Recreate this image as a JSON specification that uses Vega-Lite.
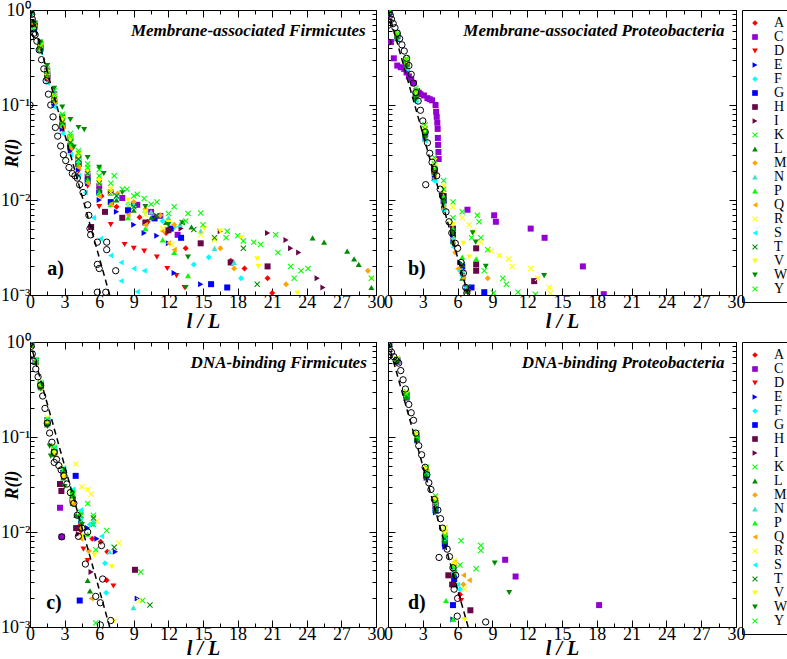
{
"$schema":"https://vega.github.io/schema/vega-lite/v6.json",
"padding":{"left":0,"top":0,"right":0,"bottom":0},
"config":{"font":"Liberation Serif","view":{"stroke":"black","strokeWidth":1},
"axis":{"domainColor":"black","tickColor":"black","labelColor":"black","titleColor":"black","labelFont":"Liberation Serif","titleFont":"Liberation Serif","labelFontSize":18,"grid":false,"tickWidth":1,"domainWidth":1,"labelFlush":false,"labelOverlap":false},
"legend":{"strokeColor":"black","padding":6,"labelFontSize":14,"labelFont":"Liberation Serif","labelColor":"black","symbolSize":32,"rowPadding":-1,"labelOffset":12,"offset":-4,"symbolStrokeWidth":0}},
"datasets":{
"fit":[{"p":"a","x":0,"y":1},{"p":"a","x":6.91,"y":0.001},{"p":"b","x":0,"y":1},{"p":"b","x":6.91,"y":0.001},{"p":"c","x":0,"y":1},{"p":"c","x":6.91,"y":0.001},{"p":"d","x":0,"y":1},{"p":"d","x":6.91,"y":0.001}],
"ref":[
{"p":"a","x":0,"y":1},{"p":"a","x":0.1,"y":1},{"p":"a","x":0.15,"y":0.9},{"p":"a","x":0.2,"y":0.8},{"p":"a","x":0.25,"y":0.72},{"p":"a","x":0.3,"y":0.64},{"p":"a","x":0.35,"y":0.57},{"p":"a","x":0.06,"y":0.52},{"p":"a","x":0,"y":0.1},{"p":"a","x":0.45,"y":0.55},{"p":"a","x":0.6,"y":0.47},{"p":"a","x":0.8,"y":0.38},{"p":"a","x":1.0,"y":0.3},{"p":"a","x":1.2,"y":0.24},{"p":"a","x":1.4,"y":0.18},{"p":"a","x":1.6,"y":0.13},{"p":"a","x":1.8,"y":0.1},{"p":"a","x":2.0,"y":0.075},{"p":"a","x":2.2,"y":0.058},{"p":"a","x":2.4,"y":0.047},{"p":"a","x":2.66,"y":0.037},{"p":"a","x":2.9,"y":0.03},{"p":"a","x":3.1,"y":0.026},{"p":"a","x":3.38,"y":0.022},{"p":"a","x":3.67,"y":0.019},{"p":"a","x":3.9,"y":0.018},{"p":"a","x":4.1,"y":0.017},{"p":"a","x":4.3,"y":0.0145},{"p":"a","x":4.6,"y":0.012},{"p":"a","x":5.0,"y":0.0089},{"p":"a","x":5.1,"y":0.0069},{"p":"a","x":5.2,"y":0.005},{"p":"a","x":5.26,"y":0.0043},{"p":"a","x":5.84,"y":0.0036},{"p":"a","x":6.65,"y":0.0036},{"p":"a","x":6.65,"y":0.003},{"p":"a","x":5.84,"y":0.0021},{"p":"a","x":6.0,"y":0.0019},{"p":"a","x":7.43,"y":0.0018},{"p":"a","x":5.84,"y":0.00107},{"p":"a","x":6.57,"y":0.00107},
{"p":"b","x":0,"y":0.69},{"p":"b","x":0,"y":0.46},{"p":"b","x":0.05,"y":1},{"p":"b","x":0.1,"y":0.95},{"p":"b","x":0.2,"y":0.88},{"p":"b","x":0.3,"y":0.8},{"p":"b","x":0.45,"y":0.72},{"p":"b","x":0.6,"y":0.65},{"p":"b","x":0.8,"y":0.57},{"p":"b","x":1.0,"y":0.5},{"p":"b","x":1.2,"y":0.43},{"p":"b","x":1.4,"y":0.37},{"p":"b","x":1.6,"y":0.31},{"p":"b","x":1.8,"y":0.26},{"p":"b","x":2.0,"y":0.21},{"p":"b","x":2.2,"y":0.17},{"p":"b","x":2.4,"y":0.135},{"p":"b","x":2.6,"y":0.11},{"p":"b","x":2.8,"y":0.088},{"p":"b","x":3.0,"y":0.068},{"p":"b","x":3.2,"y":0.052},{"p":"b","x":3.4,"y":0.04},{"p":"b","x":3.6,"y":0.031},{"p":"b","x":3.8,"y":0.025},{"p":"b","x":3.25,"y":0.0145},{"p":"b","x":4.0,"y":0.021},{"p":"b","x":4.2,"y":0.018},{"p":"b","x":4.5,"y":0.013},{"p":"b","x":4.7,"y":0.011},{"p":"b","x":5.0,"y":0.0075},{"p":"b","x":5.26,"y":0.0059},{"p":"b","x":5.5,"y":0.0045},{"p":"b","x":5.8,"y":0.0035},{"p":"b","x":6.0,"y":0.0031},{"p":"b","x":6.3,"y":0.0022},{"p":"b","x":6.5,"y":0.0017},{"p":"b","x":6.7,"y":0.0012},{"p":"b","x":6.8,"y":0.00105},
{"p":"c","x":0,"y":0.97},{"p":"c","x":0.1,"y":0.9},{"p":"c","x":0.2,"y":0.75},{"p":"c","x":0.3,"y":0.63},{"p":"c","x":0.5,"y":0.52},{"p":"c","x":0.7,"y":0.43},{"p":"c","x":0.93,"y":0.35},{"p":"c","x":1.1,"y":0.27},{"p":"c","x":1.3,"y":0.2},{"p":"c","x":1.5,"y":0.14},{"p":"c","x":1.7,"y":0.11},{"p":"c","x":1.9,"y":0.088},{"p":"c","x":2.1,"y":0.069},{"p":"c","x":2.3,"y":0.058},{"p":"c","x":2.5,"y":0.05},{"p":"c","x":2.1,"y":0.054},{"p":"c","x":2.7,"y":0.045},{"p":"c","x":2.95,"y":0.039},{"p":"c","x":3.2,"y":0.032},{"p":"c","x":3.5,"y":0.026},{"p":"c","x":3.8,"y":0.02},{"p":"c","x":4.1,"y":0.015},{"p":"c","x":4.5,"y":0.011},{"p":"c","x":4.2,"y":0.009},{"p":"c","x":2.75,"y":0.0089},{"p":"c","x":5.0,"y":0.01},{"p":"c","x":6.2,"y":0.0072},{"p":"c","x":4.8,"y":0.0046},{"p":"c","x":6.3,"y":0.0032},{"p":"c","x":5.7,"y":0.0021},{"p":"c","x":6.1,"y":0.0018},{"p":"c","x":7.0,"y":0.00117},{"p":"c","x":6.1,"y":0.00105},
{"p":"d","x":0,"y":1},{"p":"d","x":0.05,"y":0.93},{"p":"d","x":0.1,"y":0.85},{"p":"d","x":0,"y":0.7},{"p":"d","x":0.3,"y":0.78},{"p":"d","x":0.5,"y":0.7},{"p":"d","x":0.7,"y":0.64},{"p":"d","x":0.92,"y":0.6},{"p":"d","x":1.1,"y":0.5},{"p":"d","x":1.3,"y":0.4},{"p":"d","x":1.5,"y":0.32},{"p":"d","x":1.79,"y":0.22},{"p":"d","x":2.0,"y":0.18},{"p":"d","x":2.2,"y":0.15},{"p":"d","x":2.4,"y":0.11},{"p":"d","x":2.65,"y":0.081},{"p":"d","x":2.9,"y":0.065},{"p":"d","x":3.2,"y":0.048},{"p":"d","x":3.35,"y":0.04},{"p":"d","x":3.52,"y":0.033},{"p":"d","x":3.7,"y":0.028},{"p":"d","x":4.0,"y":0.022},{"p":"d","x":4.3,"y":0.017},{"p":"d","x":4.53,"y":0.0138},{"p":"d","x":4.7,"y":0.011},{"p":"d","x":4.4,"y":0.0054},{"p":"d","x":5.1,"y":0.0066},{"p":"d","x":5.3,"y":0.0055},{"p":"d","x":5.6,"y":0.0042},{"p":"d","x":5.83,"y":0.0035},{"p":"d","x":5.7,"y":0.0025},{"p":"d","x":6.0,"y":0.002},{"p":"d","x":5.97,"y":0.0013},{"p":"d","x":8.42,"y":0.00113}],
"pts":[
{"p":"a","s":"A","x":0.05,"y":0.96},{"p":"a","s":"A","x":0.4,"y":0.66},{"p":"a","s":"A","x":0.9,"y":0.38},{"p":"a","s":"A","x":1.5,"y":0.19},{"p":"a","s":"A","x":2.1,"y":0.105},{"p":"a","s":"A","x":2.8,"y":0.06},{"p":"a","s":"A","x":3.5,"y":0.036},{"p":"a","s":"A","x":4.2,"y":0.023},{"p":"a","s":"A","x":5,"y":0.016},{"p":"a","s":"A","x":6.2,"y":0.011},{"p":"a","s":"A","x":7.5,"y":0.0085},{"p":"a","s":"A","x":8.5,"y":0.0075},{"p":"a","s":"A","x":9.5,"y":0.0066},{"p":"a","s":"A","x":10.2,"y":0.0059},{"p":"a","s":"A","x":11.8,"y":0.0045},{"p":"a","s":"A","x":13.5,"y":0.0031},{"p":"a","s":"A","x":17.4,"y":0.0023},{"p":"a","s":"A","x":18.6,"y":0.0019},{"p":"a","s":"A","x":20.6,"y":0.0015},{"p":"a","s":"A","x":21,"y":0.00105},
{"p":"a","s":"C","x":0.05,"y":0.98},{"p":"a","s":"C","x":0.4,"y":0.72},{"p":"a","s":"C","x":0.9,"y":0.44},{"p":"a","s":"C","x":1.5,"y":0.23},{"p":"a","s":"C","x":2.1,"y":0.13},{"p":"a","s":"C","x":2.8,"y":0.075},{"p":"a","s":"C","x":3.5,"y":0.045},{"p":"a","s":"C","x":4.2,"y":0.028},{"p":"a","s":"C","x":5,"y":0.018},{"p":"a","s":"C","x":6,"y":0.014},{"p":"a","s":"C","x":7,"y":0.012},{"p":"a","s":"C","x":8,"y":0.0105},{"p":"a","s":"C","x":9.3,"y":0.0089},{"p":"a","s":"C","x":10.5,"y":0.0075},{"p":"a","s":"C","x":11.3,"y":0.0068},{"p":"a","s":"C","x":12.8,"y":0.0043},
{"p":"a","s":"D","x":0.05,"y":0.95},{"p":"a","s":"D","x":0.4,"y":0.64},{"p":"a","s":"D","x":0.9,"y":0.37},{"p":"a","s":"D","x":1.5,"y":0.18},{"p":"a","s":"D","x":2.1,"y":0.1},{"p":"a","s":"D","x":2.8,"y":0.055},{"p":"a","s":"D","x":3.5,"y":0.032},{"p":"a","s":"D","x":4.2,"y":0.02},{"p":"a","s":"D","x":5,"y":0.014},{"p":"a","s":"D","x":6,"y":0.0085},{"p":"a","s":"D","x":7,"y":0.0055},{"p":"a","s":"D","x":8.2,"y":0.0034},{"p":"a","s":"D","x":9,"y":0.0031},{"p":"a","s":"D","x":9.9,"y":0.0029},{"p":"a","s":"D","x":11,"y":0.0025},{"p":"a","s":"D","x":11.9,"y":0.0019},{"p":"a","s":"D","x":12.7,"y":0.0016},{"p":"a","s":"D","x":13.4,"y":0.0012},
{"p":"a","s":"E","x":0.05,"y":0.95},{"p":"a","s":"E","x":0.4,"y":0.65},{"p":"a","s":"E","x":0.9,"y":0.38},{"p":"a","s":"E","x":1.5,"y":0.19},{"p":"a","s":"E","x":2.1,"y":0.1},{"p":"a","s":"E","x":2.8,"y":0.056},{"p":"a","s":"E","x":3.5,"y":0.033},{"p":"a","s":"E","x":4.2,"y":0.021},{"p":"a","s":"E","x":5,"y":0.015},{"p":"a","s":"E","x":6,"y":0.01},{"p":"a","s":"E","x":7.5,"y":0.0075},{"p":"a","s":"E","x":9,"y":0.0055},{"p":"a","s":"E","x":9.9,"y":0.0045},{"p":"a","s":"E","x":11,"y":0.0042},{"p":"a","s":"E","x":12,"y":0.0035},{"p":"a","s":"E","x":12.5,"y":0.0017},{"p":"a","s":"E","x":14.8,"y":0.0013},
{"p":"a","s":"F","x":0.05,"y":0.97},{"p":"a","s":"F","x":0.4,"y":0.68},{"p":"a","s":"F","x":0.9,"y":0.41},{"p":"a","s":"F","x":1.5,"y":0.21},{"p":"a","s":"F","x":2.1,"y":0.115},{"p":"a","s":"F","x":2.8,"y":0.066},{"p":"a","s":"F","x":3.5,"y":0.04},{"p":"a","s":"F","x":4.2,"y":0.027},{"p":"a","s":"F","x":5,"y":0.02},{"p":"a","s":"F","x":6,"y":0.015},{"p":"a","s":"F","x":7,"y":0.012},{"p":"a","s":"F","x":8.5,"y":0.009},{"p":"a","s":"F","x":10,"y":0.0075},{"p":"a","s":"F","x":11.5,"y":0.006},{"p":"a","s":"F","x":12.5,"y":0.0052},{"p":"a","s":"F","x":14.2,"y":0.0021},{"p":"a","s":"F","x":15.5,"y":0.0025},{"p":"a","s":"F","x":18.3,"y":0.0015},
{"p":"a","s":"G","x":0.05,"y":0.96},{"p":"a","s":"G","x":0.4,"y":0.67},{"p":"a","s":"G","x":0.9,"y":0.39},{"p":"a","s":"G","x":1.5,"y":0.2},{"p":"a","s":"G","x":2.1,"y":0.108},{"p":"a","s":"G","x":2.8,"y":0.06},{"p":"a","s":"G","x":3.5,"y":0.036},{"p":"a","s":"G","x":4.2,"y":0.024},{"p":"a","s":"G","x":5,"y":0.016},{"p":"a","s":"G","x":6,"y":0.012},{"p":"a","s":"G","x":7,"y":0.0095},{"p":"a","s":"G","x":8.5,"y":0.0078},{"p":"a","s":"G","x":10.8,"y":0.0064},{"p":"a","s":"G","x":12.2,"y":0.005},{"p":"a","s":"G","x":13.1,"y":0.004},{"p":"a","s":"G","x":15.7,"y":0.0013},{"p":"a","s":"G","x":17.1,"y":0.0012},
{"p":"a","s":"H","x":0.05,"y":0.97},{"p":"a","s":"H","x":0.4,"y":0.69},{"p":"a","s":"H","x":0.9,"y":0.4},{"p":"a","s":"H","x":1.5,"y":0.2},{"p":"a","s":"H","x":2.1,"y":0.11},{"p":"a","s":"H","x":2.8,"y":0.062},{"p":"a","s":"H","x":3.5,"y":0.037},{"p":"a","s":"H","x":4.2,"y":0.024},{"p":"a","s":"H","x":5.3,"y":0.0052},{"p":"a","s":"H","x":6.5,"y":0.0075},{"p":"a","s":"H","x":8,"y":0.0065},{"p":"a","s":"H","x":10,"y":0.0058},{"p":"a","s":"H","x":12,"y":0.0048},{"p":"a","s":"H","x":14.8,"y":0.0035},{"p":"a","s":"H","x":17.4,"y":0.0022},{"p":"a","s":"H","x":20.6,"y":0.002},
{"p":"a","s":"I","x":0.05,"y":0.98},{"p":"a","s":"I","x":0.4,"y":0.7},{"p":"a","s":"I","x":0.9,"y":0.42},{"p":"a","s":"I","x":1.5,"y":0.22},{"p":"a","s":"I","x":2.1,"y":0.12},{"p":"a","s":"I","x":2.8,"y":0.07},{"p":"a","s":"I","x":3.5,"y":0.043},{"p":"a","s":"I","x":4.2,"y":0.028},{"p":"a","s":"I","x":5,"y":0.018},{"p":"a","s":"I","x":7,"y":0.012},{"p":"a","s":"I","x":9,"y":0.009},{"p":"a","s":"I","x":11,"y":0.0068},{"p":"a","s":"I","x":13.1,"y":0.005},{"p":"a","s":"I","x":16.5,"y":0.0047},{"p":"a","s":"I","x":20.6,"y":0.0045},{"p":"a","s":"I","x":22.2,"y":0.0038},{"p":"a","s":"I","x":22.6,"y":0.0031},{"p":"a","s":"I","x":23.3,"y":0.0028},{"p":"a","s":"I","x":24.9,"y":0.0015},{"p":"a","s":"I","x":25.4,"y":0.0012},
{"p":"a","s":"K","x":0.05,"y":0.99},{"p":"a","s":"K","x":0.4,"y":0.72},{"p":"a","s":"K","x":0.9,"y":0.44},{"p":"a","s":"K","x":1.5,"y":0.24},{"p":"a","s":"K","x":2.1,"y":0.14},{"p":"a","s":"K","x":2.8,"y":0.08},{"p":"a","s":"K","x":3.5,"y":0.05},{"p":"a","s":"K","x":4.2,"y":0.033},{"p":"a","s":"K","x":5,"y":0.024},{"p":"a","s":"K","x":6,"y":0.021},{"p":"a","s":"K","x":7.3,"y":0.018},{"p":"a","s":"K","x":8.4,"y":0.013},{"p":"a","s":"K","x":9.3,"y":0.0115},{"p":"a","s":"K","x":9.9,"y":0.0104},{"p":"a","s":"K","x":11,"y":0.0095},{"p":"a","s":"K","x":12.5,"y":0.0085},{"p":"a","s":"K","x":13.7,"y":0.0072},{"p":"a","s":"K","x":14.8,"y":0.0073},{"p":"a","s":"K","x":17.1,"y":0.0047},{"p":"a","s":"K","x":18,"y":0.0042},{"p":"a","s":"K","x":19.4,"y":0.0036},{"p":"a","s":"K","x":21.3,"y":0.0043},{"p":"a","s":"K","x":22.6,"y":0.002},{"p":"a","s":"K","x":22.9,"y":0.0015},{"p":"a","s":"K","x":24.1,"y":0.0019},
{"p":"a","s":"L","x":0.05,"y":0.97},{"p":"a","s":"L","x":0.4,"y":0.69},{"p":"a","s":"L","x":0.9,"y":0.41},{"p":"a","s":"L","x":1.5,"y":0.21},{"p":"a","s":"L","x":2.1,"y":0.12},{"p":"a","s":"L","x":2.8,"y":0.068},{"p":"a","s":"L","x":3.5,"y":0.041},{"p":"a","s":"L","x":4.2,"y":0.026},{"p":"a","s":"L","x":5,"y":0.017},{"p":"a","s":"L","x":6,"y":0.013},{"p":"a","s":"L","x":7.5,"y":0.01},{"p":"a","s":"L","x":9,"y":0.0078},{"p":"a","s":"L","x":10.5,"y":0.0065},{"p":"a","s":"L","x":11.8,"y":0.0058},{"p":"a","s":"L","x":13.2,"y":0.0059},{"p":"a","s":"L","x":14,"y":0.0052},{"p":"a","s":"L","x":24.5,"y":0.004},{"p":"a","s":"L","x":25.5,"y":0.0036},{"p":"a","s":"L","x":27.5,"y":0.0029},{"p":"a","s":"L","x":28.1,"y":0.0024},{"p":"a","s":"L","x":28.5,"y":0.0021},{"p":"a","s":"L","x":29.6,"y":0.0012},
{"p":"a","s":"M","x":0.05,"y":0.97},{"p":"a","s":"M","x":0.4,"y":0.69},{"p":"a","s":"M","x":0.9,"y":0.42},{"p":"a","s":"M","x":1.5,"y":0.21},{"p":"a","s":"M","x":2.1,"y":0.12},{"p":"a","s":"M","x":2.8,"y":0.07},{"p":"a","s":"M","x":3.5,"y":0.044},{"p":"a","s":"M","x":4.2,"y":0.029},{"p":"a","s":"M","x":5,"y":0.02},{"p":"a","s":"M","x":6,"y":0.016},{"p":"a","s":"M","x":7.6,"y":0.0117},{"p":"a","s":"M","x":9,"y":0.0095},{"p":"a","s":"M","x":10,"y":0.008},{"p":"a","s":"M","x":11.3,"y":0.0069},{"p":"a","s":"M","x":12.5,"y":0.0055},{"p":"a","s":"M","x":16.5,"y":0.0031},{"p":"a","s":"M","x":17.7,"y":0.0019},{"p":"a","s":"M","x":22.2,"y":0.0013},{"p":"a","s":"M","x":29.3,"y":0.0018},
{"p":"a","s":"N","x":0.05,"y":0.96},{"p":"a","s":"N","x":0.4,"y":0.67},{"p":"a","s":"N","x":0.9,"y":0.4},{"p":"a","s":"N","x":1.5,"y":0.2},{"p":"a","s":"N","x":2.1,"y":0.11},{"p":"a","s":"N","x":2.8,"y":0.064},{"p":"a","s":"N","x":3.5,"y":0.04},{"p":"a","s":"N","x":4.2,"y":0.026},{"p":"a","s":"N","x":5,"y":0.019},{"p":"a","s":"N","x":6,"y":0.015},{"p":"a","s":"N","x":7.5,"y":0.011},{"p":"a","s":"N","x":9,"y":0.009},{"p":"a","s":"N","x":10.5,"y":0.0075},{"p":"a","s":"N","x":12,"y":0.0065},{"p":"a","s":"N","x":13,"y":0.0055},{"p":"a","s":"N","x":14.8,"y":0.0047},{"p":"a","s":"N","x":16,"y":0.0031},{"p":"a","s":"N","x":17.7,"y":0.0022},
{"p":"a","s":"P","x":0.05,"y":0.96},{"p":"a","s":"P","x":0.4,"y":0.66},{"p":"a","s":"P","x":0.9,"y":0.39},{"p":"a","s":"P","x":1.5,"y":0.2},{"p":"a","s":"P","x":2.1,"y":0.11},{"p":"a","s":"P","x":2.8,"y":0.062},{"p":"a","s":"P","x":3.5,"y":0.037},{"p":"a","s":"P","x":4.2,"y":0.024},{"p":"a","s":"P","x":5,"y":0.016},{"p":"a","s":"P","x":6,"y":0.012},{"p":"a","s":"P","x":7,"y":0.009},{"p":"a","s":"P","x":8.5,"y":0.0065},{"p":"a","s":"P","x":10,"y":0.005},{"p":"a","s":"P","x":11.5,"y":0.0038},{"p":"a","s":"P","x":12.5,"y":0.0028},{"p":"a","s":"P","x":13.7,"y":0.0016},
{"p":"a","s":"Q","x":0.05,"y":0.95},{"p":"a","s":"Q","x":0.4,"y":0.65},{"p":"a","s":"Q","x":0.9,"y":0.38},{"p":"a","s":"Q","x":1.5,"y":0.19},{"p":"a","s":"Q","x":2.1,"y":0.105},{"p":"a","s":"Q","x":2.8,"y":0.058},{"p":"a","s":"Q","x":3.5,"y":0.035},{"p":"a","s":"Q","x":4.2,"y":0.022},{"p":"a","s":"Q","x":5,"y":0.015},{"p":"a","s":"Q","x":6,"y":0.011},{"p":"a","s":"Q","x":7,"y":0.009},{"p":"a","s":"Q","x":8.5,"y":0.007},{"p":"a","s":"Q","x":10,"y":0.0055},{"p":"a","s":"Q","x":11.5,"y":0.0047},{"p":"a","s":"Q","x":12,"y":0.0035},{"p":"a","s":"Q","x":12.5,"y":0.003},
{"p":"a","s":"R","x":0.05,"y":0.97},{"p":"a","s":"R","x":0.4,"y":0.7},{"p":"a","s":"R","x":0.9,"y":0.42},{"p":"a","s":"R","x":1.5,"y":0.22},{"p":"a","s":"R","x":2.1,"y":0.12},{"p":"a","s":"R","x":2.8,"y":0.07},{"p":"a","s":"R","x":3.5,"y":0.043},{"p":"a","s":"R","x":4.2,"y":0.028},{"p":"a","s":"R","x":5,"y":0.02},{"p":"a","s":"R","x":6,"y":0.015},{"p":"a","s":"R","x":7,"y":0.012},{"p":"a","s":"R","x":8.5,"y":0.009},{"p":"a","s":"R","x":10,"y":0.007},{"p":"a","s":"R","x":11.5,"y":0.005},{"p":"a","s":"R","x":12.3,"y":0.0034},{"p":"a","s":"R","x":14.8,"y":0.0043},{"p":"a","s":"R","x":16,"y":0.0038},{"p":"a","s":"R","x":29.6,"y":0.0015},
{"p":"a","s":"S","x":0.05,"y":0.94},{"p":"a","s":"S","x":0.4,"y":0.62},{"p":"a","s":"S","x":0.9,"y":0.36},{"p":"a","s":"S","x":1.5,"y":0.17},{"p":"a","s":"S","x":2.1,"y":0.095},{"p":"a","s":"S","x":2.8,"y":0.05},{"p":"a","s":"S","x":3.5,"y":0.03},{"p":"a","s":"S","x":4.2,"y":0.018},{"p":"a","s":"S","x":4.8,"y":0.012},{"p":"a","s":"S","x":5.5,"y":0.0065},{"p":"a","s":"S","x":6.1,"y":0.0039},{"p":"a","s":"S","x":7,"y":0.0026},{"p":"a","s":"S","x":7.9,"y":0.0022},{"p":"a","s":"S","x":9,"y":0.0019},{"p":"a","s":"S","x":9.9,"y":0.0018},{"p":"a","s":"S","x":7.9,"y":0.0014},{"p":"a","s":"S","x":9.3,"y":0.00108},
{"p":"a","s":"T","x":0.05,"y":0.97},{"p":"a","s":"T","x":0.4,"y":0.69},{"p":"a","s":"T","x":0.9,"y":0.41},{"p":"a","s":"T","x":1.5,"y":0.21},{"p":"a","s":"T","x":2.1,"y":0.115},{"p":"a","s":"T","x":2.8,"y":0.066},{"p":"a","s":"T","x":3.5,"y":0.04},{"p":"a","s":"T","x":4.2,"y":0.027},{"p":"a","s":"T","x":5,"y":0.019},{"p":"a","s":"T","x":6,"y":0.015},{"p":"a","s":"T","x":7.5,"y":0.011},{"p":"a","s":"T","x":9,"y":0.0085},{"p":"a","s":"T","x":11,"y":0.0068},{"p":"a","s":"T","x":13.2,"y":0.0058},{"p":"a","s":"T","x":14.2,"y":0.0049},{"p":"a","s":"T","x":16,"y":0.004},{"p":"a","s":"T","x":18.5,"y":0.0031},{"p":"a","s":"T","x":19.7,"y":0.0013},
{"p":"a","s":"V","x":0.05,"y":0.97},{"p":"a","s":"V","x":0.4,"y":0.7},{"p":"a","s":"V","x":0.9,"y":0.42},{"p":"a","s":"V","x":1.5,"y":0.22},{"p":"a","s":"V","x":2.1,"y":0.125},{"p":"a","s":"V","x":2.8,"y":0.072},{"p":"a","s":"V","x":3.5,"y":0.045},{"p":"a","s":"V","x":4.2,"y":0.03},{"p":"a","s":"V","x":5,"y":0.021},{"p":"a","s":"V","x":6,"y":0.016},{"p":"a","s":"V","x":7,"y":0.013},{"p":"a","s":"V","x":8.5,"y":0.01},{"p":"a","s":"V","x":10,"y":0.0075},{"p":"a","s":"V","x":12,"y":0.0058},{"p":"a","s":"V","x":15.1,"y":0.005},{"p":"a","s":"V","x":16.5,"y":0.0047},{"p":"a","s":"V","x":18.3,"y":0.004},{"p":"a","s":"V","x":19.7,"y":0.0024},{"p":"a","s":"V","x":19.8,"y":0.002},{"p":"a","s":"V","x":23.2,"y":0.00105},
{"p":"a","s":"W","x":0.05,"y":0.98},{"p":"a","s":"W","x":0.4,"y":0.72},{"p":"a","s":"W","x":0.9,"y":0.46},{"p":"a","s":"W","x":1.5,"y":0.26},{"p":"a","s":"W","x":2.1,"y":0.15},{"p":"a","s":"W","x":2.8,"y":0.095},{"p":"a","s":"W","x":3.5,"y":0.07},{"p":"a","s":"W","x":4.2,"y":0.058},{"p":"a","s":"W","x":4.7,"y":0.055},{"p":"a","s":"W","x":3.8,"y":0.036},{"p":"a","s":"W","x":5,"y":0.028},{"p":"a","s":"W","x":6,"y":0.022},{"p":"a","s":"W","x":6.4,"y":0.019},{"p":"a","s":"W","x":8,"y":0.012},{"p":"a","s":"W","x":10,"y":0.0085},{"p":"a","s":"W","x":12,"y":0.0055},{"p":"a","s":"W","x":13.7,"y":0.0025},{"p":"a","s":"W","x":13.5,"y":0.0012},
{"p":"a","s":"Y","x":0.05,"y":0.98},{"p":"a","s":"Y","x":0.4,"y":0.71},{"p":"a","s":"Y","x":0.9,"y":0.43},{"p":"a","s":"Y","x":1.5,"y":0.23},{"p":"a","s":"Y","x":2.1,"y":0.13},{"p":"a","s":"Y","x":2.8,"y":0.076},{"p":"a","s":"Y","x":3.5,"y":0.047},{"p":"a","s":"Y","x":4.2,"y":0.031},{"p":"a","s":"Y","x":5,"y":0.022},{"p":"a","s":"Y","x":6,"y":0.018},{"p":"a","s":"Y","x":7,"y":0.015},{"p":"a","s":"Y","x":8,"y":0.013},{"p":"a","s":"Y","x":9,"y":0.011},{"p":"a","s":"Y","x":10.5,"y":0.009},{"p":"a","s":"Y","x":12,"y":0.0072},{"p":"a","s":"Y","x":13.5,"y":0.006},{"p":"a","s":"Y","x":15,"y":0.0055},{"p":"a","s":"Y","x":17,"y":0.004},{"p":"a","s":"Y","x":18.5,"y":0.0037},{"p":"a","s":"Y","x":20,"y":0.0034},{"p":"a","s":"Y","x":21.5,"y":0.0028},{"p":"a","s":"Y","x":23.5,"y":0.0018},{"p":"a","s":"Y","x":29.6,"y":0.0015},
{"p":"b","s":"A","x":0.1,"y":0.95},{"p":"b","s":"A","x":0.8,"y":0.53},{"p":"b","s":"A","x":1.6,"y":0.27},{"p":"b","s":"A","x":2.4,"y":0.125},{"p":"b","s":"A","x":3.2,"y":0.048},{"p":"b","s":"A","x":4.0,"y":0.019},{"p":"b","s":"A","x":4.8,"y":0.0095},{"p":"b","s":"A","x":5.6,"y":0.0042},{"p":"b","s":"A","x":6.4,"y":0.0018},{"p":"b","s":"A","x":6.9,"y":0.0011},
{"p":"b","s":"C","x":0.1,"y":0.9},{"p":"b","s":"C","x":0.25,"y":0.46},{"p":"b","s":"C","x":0.5,"y":0.31},{"p":"b","s":"C","x":0.8,"y":0.26},{"p":"b","s":"C","x":1.1,"y":0.25},{"p":"b","s":"C","x":1.4,"y":0.24},{"p":"b","s":"C","x":1.6,"y":0.22},{"p":"b","s":"C","x":1.8,"y":0.2},{"p":"b","s":"C","x":2.0,"y":0.185},{"p":"b","s":"C","x":2.2,"y":0.17},{"p":"b","s":"C","x":2.5,"y":0.14},{"p":"b","s":"C","x":2.65,"y":0.135},{"p":"b","s":"C","x":2.8,"y":0.13},{"p":"b","s":"C","x":3.1,"y":0.126},{"p":"b","s":"C","x":3.4,"y":0.118},{"p":"b","s":"C","x":3.6,"y":0.115},{"p":"b","s":"C","x":3.8,"y":0.112},{"p":"b","s":"C","x":4.1,"y":0.1},{"p":"b","s":"C","x":4.15,"y":0.085},{"p":"b","s":"C","x":4.2,"y":0.075},{"p":"b","s":"C","x":4.25,"y":0.065},{"p":"b","s":"C","x":4.28,"y":0.056},{"p":"b","s":"C","x":4.3,"y":0.045},{"p":"b","s":"C","x":4.32,"y":0.038},{"p":"b","s":"C","x":4.35,"y":0.032},{"p":"b","s":"C","x":4.37,"y":0.027},{"p":"b","s":"C","x":6.85,"y":0.0079},{"p":"b","s":"C","x":9.15,"y":0.0069},{"p":"b","s":"C","x":9.3,"y":0.0059},{"p":"b","s":"C","x":12.3,"y":0.005},{"p":"b","s":"C","x":13.5,"y":0.004},{"p":"b","s":"C","x":16.8,"y":0.002},{"p":"b","s":"C","x":18.6,"y":0.00102},
{"p":"b","s":"D","x":0.1,"y":0.95},{"p":"b","s":"D","x":0.8,"y":0.52},{"p":"b","s":"D","x":1.6,"y":0.26},{"p":"b","s":"D","x":2.4,"y":0.12},{"p":"b","s":"D","x":3.2,"y":0.046},{"p":"b","s":"D","x":4.0,"y":0.018},{"p":"b","s":"D","x":4.8,"y":0.009},{"p":"b","s":"D","x":5.6,"y":0.0038},{"p":"b","s":"D","x":6.4,"y":0.0016},{"p":"b","s":"D","x":6.7,"y":0.0011},
{"p":"b","s":"E","x":0.1,"y":0.94},{"p":"b","s":"E","x":0.8,"y":0.5},{"p":"b","s":"E","x":1.6,"y":0.25},{"p":"b","s":"E","x":2.4,"y":0.115},{"p":"b","s":"E","x":3.2,"y":0.045},{"p":"b","s":"E","x":4.0,"y":0.017},{"p":"b","s":"E","x":4.8,"y":0.0085},{"p":"b","s":"E","x":5.6,"y":0.0037},{"p":"b","s":"E","x":6.2,"y":0.0022},{"p":"b","s":"E","x":6.8,"y":0.0012},
{"p":"b","s":"F","x":0.1,"y":0.94},{"p":"b","s":"F","x":0.8,"y":0.5},{"p":"b","s":"F","x":1.6,"y":0.25},{"p":"b","s":"F","x":2.4,"y":0.11},{"p":"b","s":"F","x":3.2,"y":0.043},{"p":"b","s":"F","x":4.0,"y":0.016},{"p":"b","s":"F","x":4.8,"y":0.008},{"p":"b","s":"F","x":5.6,"y":0.0035},{"p":"b","s":"F","x":6.4,"y":0.0016},
{"p":"b","s":"G","x":0.1,"y":0.95},{"p":"b","s":"G","x":0.8,"y":0.53},{"p":"b","s":"G","x":1.6,"y":0.27},{"p":"b","s":"G","x":2.4,"y":0.125},{"p":"b","s":"G","x":3.2,"y":0.049},{"p":"b","s":"G","x":4.0,"y":0.02},{"p":"b","s":"G","x":4.8,"y":0.0098},{"p":"b","s":"G","x":5.6,"y":0.0043},{"p":"b","s":"G","x":6.4,"y":0.002},{"p":"b","s":"G","x":7.2,"y":0.0012},{"p":"b","s":"G","x":8.3,"y":0.00107},
{"p":"b","s":"H","x":0.1,"y":0.96},{"p":"b","s":"H","x":0.8,"y":0.54},{"p":"b","s":"H","x":1.6,"y":0.28},{"p":"b","s":"H","x":2.4,"y":0.13},{"p":"b","s":"H","x":3.2,"y":0.05},{"p":"b","s":"H","x":4.0,"y":0.021},{"p":"b","s":"H","x":4.8,"y":0.011},{"p":"b","s":"H","x":5.6,"y":0.005},{"p":"b","s":"H","x":7.6,"y":0.0031},{"p":"b","s":"H","x":7.6,"y":0.0021},{"p":"b","s":"H","x":7.6,"y":0.0018},{"p":"b","s":"H","x":12.6,"y":0.0014},
{"p":"b","s":"I","x":0.1,"y":0.95},{"p":"b","s":"I","x":0.8,"y":0.54},{"p":"b","s":"I","x":1.6,"y":0.28},{"p":"b","s":"I","x":2.4,"y":0.13},{"p":"b","s":"I","x":3.2,"y":0.05},{"p":"b","s":"I","x":4.0,"y":0.02},{"p":"b","s":"I","x":4.8,"y":0.01},{"p":"b","s":"I","x":5.6,"y":0.0045},{"p":"b","s":"I","x":6.4,"y":0.002},
{"p":"b","s":"K","x":0.1,"y":0.97},{"p":"b","s":"K","x":0.8,"y":0.58},{"p":"b","s":"K","x":1.6,"y":0.31},{"p":"b","s":"K","x":2.4,"y":0.15},{"p":"b","s":"K","x":3.2,"y":0.062},{"p":"b","s":"K","x":4.0,"y":0.028},{"p":"b","s":"K","x":4.8,"y":0.016},{"p":"b","s":"K","x":5.6,"y":0.0095},{"p":"b","s":"K","x":6.4,"y":0.0075},{"p":"b","s":"K","x":7.7,"y":0.0069},{"p":"b","s":"K","x":7.85,"y":0.0059},{"p":"b","s":"K","x":8,"y":0.004},{"p":"b","s":"K","x":8.6,"y":0.003},{"p":"b","s":"K","x":9.9,"y":0.0015},{"p":"b","s":"K","x":10.2,"y":0.0013},{"p":"b","s":"K","x":11.2,"y":0.00107},{"p":"b","s":"K","x":12.7,"y":0.00102},
{"p":"b","s":"L","x":0.1,"y":0.94},{"p":"b","s":"L","x":0.8,"y":0.5},{"p":"b","s":"L","x":1.6,"y":0.25},{"p":"b","s":"L","x":2.4,"y":0.115},{"p":"b","s":"L","x":3.2,"y":0.044},{"p":"b","s":"L","x":4.0,"y":0.017},{"p":"b","s":"L","x":4.8,"y":0.0085},{"p":"b","s":"L","x":5.6,"y":0.0037},{"p":"b","s":"L","x":6.4,"y":0.0015},{"p":"b","s":"L","x":6.8,"y":0.0011},
{"p":"b","s":"M","x":0.1,"y":0.95},{"p":"b","s":"M","x":0.8,"y":0.52},{"p":"b","s":"M","x":1.6,"y":0.27},{"p":"b","s":"M","x":2.4,"y":0.12},{"p":"b","s":"M","x":3.2,"y":0.047},{"p":"b","s":"M","x":4.0,"y":0.019},{"p":"b","s":"M","x":4.8,"y":0.009},{"p":"b","s":"M","x":5.6,"y":0.004},{"p":"b","s":"M","x":5.8,"y":0.0028},{"p":"b","s":"M","x":6.2,"y":0.0018},{"p":"b","s":"M","x":8.6,"y":0.0015},
{"p":"b","s":"N","x":0.1,"y":0.95},{"p":"b","s":"N","x":0.8,"y":0.53},{"p":"b","s":"N","x":1.6,"y":0.27},{"p":"b","s":"N","x":2.4,"y":0.125},{"p":"b","s":"N","x":3.2,"y":0.048},{"p":"b","s":"N","x":4.0,"y":0.019},{"p":"b","s":"N","x":4.8,"y":0.0092},{"p":"b","s":"N","x":5.6,"y":0.0041},{"p":"b","s":"N","x":6.4,"y":0.0018},
{"p":"b","s":"P","x":0.1,"y":0.96},{"p":"b","s":"P","x":0.8,"y":0.55},{"p":"b","s":"P","x":1.6,"y":0.29},{"p":"b","s":"P","x":2.4,"y":0.135},{"p":"b","s":"P","x":3.2,"y":0.053},{"p":"b","s":"P","x":4.0,"y":0.022},{"p":"b","s":"P","x":4.8,"y":0.011},{"p":"b","s":"P","x":5.6,"y":0.005},{"p":"b","s":"P","x":6.4,"y":0.0025},{"p":"b","s":"P","x":7.6,"y":0.0024},
{"p":"b","s":"Q","x":0.1,"y":0.94},{"p":"b","s":"Q","x":0.8,"y":0.51},{"p":"b","s":"Q","x":1.6,"y":0.26},{"p":"b","s":"Q","x":2.4,"y":0.118},{"p":"b","s":"Q","x":3.2,"y":0.045},{"p":"b","s":"Q","x":4.0,"y":0.017},{"p":"b","s":"Q","x":4.8,"y":0.0082},{"p":"b","s":"Q","x":5.6,"y":0.0034},{"p":"b","s":"Q","x":6.0,"y":0.0019},{"p":"b","s":"Q","x":6.5,"y":0.0015},
{"p":"b","s":"R","x":0.1,"y":0.97},{"p":"b","s":"R","x":0.8,"y":0.57},{"p":"b","s":"R","x":1.6,"y":0.3},{"p":"b","s":"R","x":2.4,"y":0.14},{"p":"b","s":"R","x":3.2,"y":0.058},{"p":"b","s":"R","x":4.0,"y":0.026},{"p":"b","s":"R","x":4.8,"y":0.014},{"p":"b","s":"R","x":5.6,"y":0.0085},{"p":"b","s":"R","x":6.4,"y":0.0065},{"p":"b","s":"R","x":7.0,"y":0.0055},{"p":"b","s":"R","x":7.4,"y":0.0047},{"p":"b","s":"R","x":8,"y":0.0036},{"p":"b","s":"R","x":8.9,"y":0.0029},{"p":"b","s":"R","x":9.6,"y":0.0026},{"p":"b","s":"R","x":10.4,"y":0.0024},{"p":"b","s":"R","x":10.7,"y":0.002},{"p":"b","s":"R","x":12.3,"y":0.0019},{"p":"b","s":"R","x":12.9,"y":0.0015},{"p":"b","s":"R","x":13.9,"y":0.0012},{"p":"b","s":"R","x":14,"y":0.00105},
{"p":"b","s":"S","x":0.1,"y":0.93},{"p":"b","s":"S","x":0.8,"y":0.49},{"p":"b","s":"S","x":1.6,"y":0.24},{"p":"b","s":"S","x":2.4,"y":0.11},{"p":"b","s":"S","x":3.2,"y":0.042},{"p":"b","s":"S","x":4.0,"y":0.016},{"p":"b","s":"S","x":4.8,"y":0.0078},{"p":"b","s":"S","x":5.6,"y":0.0032},{"p":"b","s":"S","x":6.2,"y":0.0018},{"p":"b","s":"S","x":6.7,"y":0.0012},
{"p":"b","s":"T","x":0.1,"y":0.95},{"p":"b","s":"T","x":0.8,"y":0.53},{"p":"b","s":"T","x":1.6,"y":0.27},{"p":"b","s":"T","x":2.4,"y":0.125},{"p":"b","s":"T","x":3.2,"y":0.049},{"p":"b","s":"T","x":4.0,"y":0.02},{"p":"b","s":"T","x":4.8,"y":0.01},{"p":"b","s":"T","x":5.6,"y":0.0046},{"p":"b","s":"T","x":6.4,"y":0.0021},{"p":"b","s":"T","x":6.9,"y":0.0012},
{"p":"b","s":"V","x":0.1,"y":0.96},{"p":"b","s":"V","x":0.8,"y":0.55},{"p":"b","s":"V","x":1.6,"y":0.29},{"p":"b","s":"V","x":2.4,"y":0.135},{"p":"b","s":"V","x":3.2,"y":0.054},{"p":"b","s":"V","x":4.0,"y":0.023},{"p":"b","s":"V","x":4.8,"y":0.012},{"p":"b","s":"V","x":5.6,"y":0.0055},{"p":"b","s":"V","x":6.5,"y":0.0035},{"p":"b","s":"V","x":7.0,"y":0.0025},
{"p":"b","s":"W","x":0.1,"y":0.94},{"p":"b","s":"W","x":0.8,"y":0.5},{"p":"b","s":"W","x":1.6,"y":0.25},{"p":"b","s":"W","x":2.4,"y":0.115},{"p":"b","s":"W","x":3.2,"y":0.045},{"p":"b","s":"W","x":4.0,"y":0.018},{"p":"b","s":"W","x":4.8,"y":0.0092},{"p":"b","s":"W","x":5.6,"y":0.0045},{"p":"b","s":"W","x":7.3,"y":0.0045},{"p":"b","s":"W","x":7.56,"y":0.0036},{"p":"b","s":"W","x":8.43,"y":0.002},{"p":"b","s":"W","x":13.46,"y":0.0016},
{"p":"b","s":"Y","x":0.1,"y":0.96},{"p":"b","s":"Y","x":0.8,"y":0.56},{"p":"b","s":"Y","x":1.6,"y":0.3},{"p":"b","s":"Y","x":2.4,"y":0.14},{"p":"b","s":"Y","x":3.2,"y":0.056},{"p":"b","s":"Y","x":4.0,"y":0.024},{"p":"b","s":"Y","x":4.8,"y":0.013},{"p":"b","s":"Y","x":5.6,"y":0.0065},{"p":"b","s":"Y","x":7.2,"y":0.004},{"p":"b","s":"Y","x":8.3,"y":0.0018},{"p":"b","s":"Y","x":9.1,"y":0.00105},
{"p":"c","s":"A","x":0.1,"y":0.93},{"p":"c","s":"A","x":0.5,"y":0.62},{"p":"c","s":"A","x":0.93,"y":0.34},{"p":"c","s":"A","x":1.5,"y":0.14},{"p":"c","s":"A","x":2.1,"y":0.07},{"p":"c","s":"A","x":2.9,"y":0.041},{"p":"c","s":"A","x":3.7,"y":0.023},{"p":"c","s":"A","x":4.4,"y":0.012},{"p":"c","s":"A","x":5.4,"y":0.0085},{"p":"c","s":"A","x":6.13,"y":0.0079},{"p":"c","s":"A","x":6.7,"y":0.0062},{"p":"c","s":"A","x":6.65,"y":0.0031},
{"p":"c","s":"C","x":0.1,"y":0.94},{"p":"c","s":"C","x":0.5,"y":0.64},{"p":"c","s":"C","x":0.93,"y":0.36},{"p":"c","s":"C","x":1.5,"y":0.15},{"p":"c","s":"C","x":2.1,"y":0.072},{"p":"c","s":"C","x":2.6,"y":0.018},{"p":"c","s":"C","x":2.75,"y":0.0089},
{"p":"c","s":"D","x":0.1,"y":0.92},{"p":"c","s":"D","x":0.5,"y":0.61},{"p":"c","s":"D","x":0.93,"y":0.33},{"p":"c","s":"D","x":1.5,"y":0.13},{"p":"c","s":"D","x":2.1,"y":0.065},{"p":"c","s":"D","x":2.9,"y":0.037},{"p":"c","s":"D","x":3.7,"y":0.02},{"p":"c","s":"D","x":4.4,"y":0.01},{"p":"c","s":"D","x":4.63,"y":0.0066},{"p":"c","s":"D","x":5,"y":0.005},{"p":"c","s":"D","x":7.23,"y":0.0027},
{"p":"c","s":"E","x":0.1,"y":0.93},{"p":"c","s":"E","x":0.5,"y":0.63},{"p":"c","s":"E","x":0.93,"y":0.35},{"p":"c","s":"E","x":1.5,"y":0.14},{"p":"c","s":"E","x":2.1,"y":0.07},{"p":"c","s":"E","x":2.9,"y":0.042},{"p":"c","s":"E","x":3.7,"y":0.024},{"p":"c","s":"E","x":4.4,"y":0.013},{"p":"c","s":"E","x":5,"y":0.011},{"p":"c","s":"E","x":5.8,"y":0.0085},{"p":"c","s":"E","x":7.4,"y":0.0062},{"p":"c","s":"E","x":9.3,"y":0.002},
{"p":"c","s":"F","x":0.1,"y":0.94},{"p":"c","s":"F","x":0.5,"y":0.64},{"p":"c","s":"F","x":0.93,"y":0.36},{"p":"c","s":"F","x":1.5,"y":0.15},{"p":"c","s":"F","x":2.1,"y":0.075},{"p":"c","s":"F","x":2.9,"y":0.045},{"p":"c","s":"F","x":3.7,"y":0.026},{"p":"c","s":"F","x":4.4,"y":0.014},{"p":"c","s":"F","x":5.2,"y":0.012},{"p":"c","s":"F","x":6.5,"y":0.0047},{"p":"c","s":"F","x":6.6,"y":0.0023},
{"p":"c","s":"G","x":0.1,"y":0.93},{"p":"c","s":"G","x":0.5,"y":0.62},{"p":"c","s":"G","x":0.93,"y":0.35},{"p":"c","s":"G","x":1.5,"y":0.14},{"p":"c","s":"G","x":2.1,"y":0.07},{"p":"c","s":"G","x":2.9,"y":0.042},{"p":"c","s":"G","x":3.96,"y":0.039},{"p":"c","s":"G","x":3.7,"y":0.022},{"p":"c","s":"G","x":4.31,"y":0.0019},
{"p":"c","s":"H","x":0.1,"y":0.93},{"p":"c","s":"H","x":0.5,"y":0.62},{"p":"c","s":"H","x":0.93,"y":0.34},{"p":"c","s":"H","x":1.5,"y":0.14},{"p":"c","s":"H","x":2.1,"y":0.068},{"p":"c","s":"H","x":2.6,"y":0.032},{"p":"c","s":"H","x":2.72,"y":0.027},{"p":"c","s":"H","x":3.7,"y":0.021},{"p":"c","s":"H","x":4.0,"y":0.011},{"p":"c","s":"H","x":9.1,"y":0.004},
{"p":"c","s":"I","x":0.1,"y":0.92},{"p":"c","s":"I","x":0.5,"y":0.62},{"p":"c","s":"I","x":0.93,"y":0.34},{"p":"c","s":"I","x":1.5,"y":0.135},{"p":"c","s":"I","x":2.1,"y":0.067},{"p":"c","s":"I","x":2.9,"y":0.038},{"p":"c","s":"I","x":3.7,"y":0.021},{"p":"c","s":"I","x":4.2,"y":0.0095},{"p":"c","s":"I","x":5.3,"y":0.0038},
{"p":"c","s":"K","x":0.1,"y":0.94},{"p":"c","s":"K","x":0.5,"y":0.64},{"p":"c","s":"K","x":0.93,"y":0.37},{"p":"c","s":"K","x":1.5,"y":0.15},{"p":"c","s":"K","x":2.1,"y":0.076},{"p":"c","s":"K","x":2.9,"y":0.046},{"p":"c","s":"K","x":3.7,"y":0.027},{"p":"c","s":"K","x":4.4,"y":0.016},{"p":"c","s":"K","x":5,"y":0.02},{"p":"c","s":"K","x":5.5,"y":0.015},{"p":"c","s":"K","x":6.65,"y":0.0104},{"p":"c","s":"K","x":9.75,"y":0.0019},{"p":"c","s":"K","x":5.7,"y":0.0011},
{"p":"c","s":"L","x":0.1,"y":0.92},{"p":"c","s":"L","x":0.5,"y":0.61},{"p":"c","s":"L","x":0.93,"y":0.33},{"p":"c","s":"L","x":1.5,"y":0.135},{"p":"c","s":"L","x":2.1,"y":0.066},{"p":"c","s":"L","x":2.9,"y":0.037},{"p":"c","s":"L","x":3.7,"y":0.02},{"p":"c","s":"L","x":4.0,"y":0.015},{"p":"c","s":"L","x":5.0,"y":0.0031},{"p":"c","s":"L","x":5.2,"y":0.0024},
{"p":"c","s":"M","x":0.1,"y":0.93},{"p":"c","s":"M","x":0.5,"y":0.62},{"p":"c","s":"M","x":0.93,"y":0.34},{"p":"c","s":"M","x":1.5,"y":0.14},{"p":"c","s":"M","x":2.1,"y":0.068},{"p":"c","s":"M","x":2.9,"y":0.039},{"p":"c","s":"M","x":3.7,"y":0.021},{"p":"c","s":"M","x":4.4,"y":0.011},{"p":"c","s":"M","x":5.1,"y":0.0063},
{"p":"c","s":"N","x":0.1,"y":0.94},{"p":"c","s":"N","x":0.5,"y":0.64},{"p":"c","s":"N","x":0.93,"y":0.36},{"p":"c","s":"N","x":1.5,"y":0.15},{"p":"c","s":"N","x":2.1,"y":0.074},{"p":"c","s":"N","x":2.9,"y":0.044},{"p":"c","s":"N","x":3.7,"y":0.025},{"p":"c","s":"N","x":4.4,"y":0.014},{"p":"c","s":"N","x":5.5,"y":0.013},{"p":"c","s":"N","x":6.9,"y":0.0062},{"p":"c","s":"N","x":8.97,"y":0.0016},
{"p":"c","s":"P","x":0.1,"y":0.93},{"p":"c","s":"P","x":0.5,"y":0.63},{"p":"c","s":"P","x":0.93,"y":0.35},{"p":"c","s":"P","x":1.5,"y":0.14},{"p":"c","s":"P","x":2.1,"y":0.07},{"p":"c","s":"P","x":2.9,"y":0.041},{"p":"c","s":"P","x":3.7,"y":0.023},{"p":"c","s":"P","x":4.4,"y":0.013},{"p":"c","s":"P","x":5,"y":0.0095},
{"p":"c","s":"Q","x":0.1,"y":0.92},{"p":"c","s":"Q","x":0.5,"y":0.61},{"p":"c","s":"Q","x":0.93,"y":0.33},{"p":"c","s":"Q","x":1.5,"y":0.135},{"p":"c","s":"Q","x":2.1,"y":0.066},{"p":"c","s":"Q","x":2.9,"y":0.038},{"p":"c","s":"Q","x":3.7,"y":0.02},{"p":"c","s":"Q","x":4.4,"y":0.0085},{"p":"c","s":"Q","x":5.3,"y":0.002},
{"p":"c","s":"R","x":0.1,"y":0.95},{"p":"c","s":"R","x":0.5,"y":0.66},{"p":"c","s":"R","x":0.93,"y":0.38},{"p":"c","s":"R","x":1.5,"y":0.16},{"p":"c","s":"R","x":2.1,"y":0.08},{"p":"c","s":"R","x":2.9,"y":0.048},{"p":"c","s":"R","x":3.96,"y":0.052},{"p":"c","s":"R","x":4.5,"y":0.03},{"p":"c","s":"R","x":5,"y":0.028},{"p":"c","s":"R","x":5.3,"y":0.025},{"p":"c","s":"R","x":5.8,"y":0.013},{"p":"c","s":"R","x":7.7,"y":0.0076},{"p":"c","s":"R","x":9.46,"y":0.0019},
{"p":"c","s":"S","x":0.1,"y":0.94},{"p":"c","s":"S","x":0.5,"y":0.65},{"p":"c","s":"S","x":0.93,"y":0.37},{"p":"c","s":"S","x":1.5,"y":0.155},{"p":"c","s":"S","x":2.1,"y":0.078},{"p":"c","s":"S","x":2.9,"y":0.047},{"p":"c","s":"S","x":3.7,"y":0.028},{"p":"c","s":"S","x":4.4,"y":0.017},{"p":"c","s":"S","x":5.4,"y":0.012},{"p":"c","s":"S","x":6.2,"y":0.009},
{"p":"c","s":"T","x":0.1,"y":0.93},{"p":"c","s":"T","x":0.5,"y":0.63},{"p":"c","s":"T","x":0.93,"y":0.35},{"p":"c","s":"T","x":1.5,"y":0.14},{"p":"c","s":"T","x":2.1,"y":0.07},{"p":"c","s":"T","x":2.9,"y":0.042},{"p":"c","s":"T","x":3.7,"y":0.025},{"p":"c","s":"T","x":4.4,"y":0.015},{"p":"c","s":"T","x":5.5,"y":0.014},{"p":"c","s":"T","x":7.3,"y":0.0069},{"p":"c","s":"T","x":10.4,"y":0.0017},
{"p":"c","s":"V","x":0.1,"y":0.93},{"p":"c","s":"V","x":0.5,"y":0.62},{"p":"c","s":"V","x":0.93,"y":0.34},{"p":"c","s":"V","x":1.5,"y":0.14},{"p":"c","s":"V","x":2.1,"y":0.068},{"p":"c","s":"V","x":2.9,"y":0.039},{"p":"c","s":"V","x":3.7,"y":0.021},{"p":"c","s":"V","x":4.5,"y":0.009},{"p":"c","s":"V","x":5.6,"y":0.0057},{"p":"c","s":"V","x":7.1,"y":0.0043},{"p":"c","s":"V","x":7.3,"y":0.00115},
{"p":"c","s":"W","x":0.1,"y":0.92},{"p":"c","s":"W","x":0.5,"y":0.6},{"p":"c","s":"W","x":0.93,"y":0.32},{"p":"c","s":"W","x":1.5,"y":0.13},{"p":"c","s":"W","x":1.7,"y":0.08},{"p":"c","s":"W","x":1.8,"y":0.063},{"p":"c","s":"W","x":3,"y":0.03},{"p":"c","s":"W","x":4.5,"y":0.012},
{"p":"c","s":"Y","x":0.1,"y":0.94},{"p":"c","s":"Y","x":0.5,"y":0.64},{"p":"c","s":"Y","x":0.93,"y":0.36},{"p":"c","s":"Y","x":1.5,"y":0.15},{"p":"c","s":"Y","x":2.1,"y":0.075},{"p":"c","s":"Y","x":2.9,"y":0.045},{"p":"c","s":"Y","x":3.7,"y":0.026},{"p":"c","s":"Y","x":4.4,"y":0.015},{"p":"c","s":"Y","x":5.5,"y":0.012},{"p":"c","s":"Y","x":5.7,"y":0.0065},{"p":"c","s":"Y","x":9.6,"y":0.0038},
{"p":"d","s":"A","x":0.1,"y":0.97},{"p":"d","s":"A","x":0.8,"y":0.64},{"p":"d","s":"A","x":1.6,"y":0.27},{"p":"d","s":"A","x":2.5,"y":0.098},{"p":"d","s":"A","x":3.3,"y":0.041},{"p":"d","s":"A","x":4.1,"y":0.019},{"p":"d","s":"A","x":4.9,"y":0.0085},{"p":"d","s":"A","x":5.7,"y":0.0038},{"p":"d","s":"A","x":6.2,"y":0.0022},
{"p":"d","s":"C","x":0.1,"y":0.96},{"p":"d","s":"C","x":0.8,"y":0.62},{"p":"d","s":"C","x":1.6,"y":0.26},{"p":"d","s":"C","x":2.5,"y":0.095},{"p":"d","s":"C","x":3.3,"y":0.04},{"p":"d","s":"C","x":4.1,"y":0.019},{"p":"d","s":"C","x":4.9,"y":0.008},{"p":"d","s":"C","x":10.1,"y":0.0051},{"p":"d","s":"C","x":11,"y":0.0034},{"p":"d","s":"C","x":18.2,"y":0.0017},
{"p":"d","s":"D","x":0.1,"y":0.97},{"p":"d","s":"D","x":0.8,"y":0.64},{"p":"d","s":"D","x":1.6,"y":0.27},{"p":"d","s":"D","x":2.5,"y":0.1},{"p":"d","s":"D","x":3.3,"y":0.041},{"p":"d","s":"D","x":4.1,"y":0.02},{"p":"d","s":"D","x":4.9,"y":0.0088},{"p":"d","s":"D","x":5.7,"y":0.004},{"p":"d","s":"D","x":6.3,"y":0.0019},
{"p":"d","s":"E","x":0.1,"y":0.96},{"p":"d","s":"E","x":0.8,"y":0.62},{"p":"d","s":"E","x":1.6,"y":0.26},{"p":"d","s":"E","x":2.5,"y":0.092},{"p":"d","s":"E","x":3.3,"y":0.037},{"p":"d","s":"E","x":4.1,"y":0.016},{"p":"d","s":"E","x":4.9,"y":0.007},{"p":"d","s":"E","x":5.5,"y":0.0028},{"p":"d","s":"E","x":5.6,"y":0.0012},
{"p":"d","s":"F","x":0.1,"y":0.97},{"p":"d","s":"F","x":0.8,"y":0.65},{"p":"d","s":"F","x":1.6,"y":0.28},{"p":"d","s":"F","x":2.5,"y":0.1},{"p":"d","s":"F","x":3.3,"y":0.043},{"p":"d","s":"F","x":4.1,"y":0.021},{"p":"d","s":"F","x":4.9,"y":0.0092},{"p":"d","s":"F","x":5.7,"y":0.0042},{"p":"d","s":"F","x":6.2,"y":0.0025},
{"p":"d","s":"G","x":0.1,"y":0.96},{"p":"d","s":"G","x":0.8,"y":0.63},{"p":"d","s":"G","x":1.6,"y":0.27},{"p":"d","s":"G","x":2.5,"y":0.095},{"p":"d","s":"G","x":3.3,"y":0.039},{"p":"d","s":"G","x":4.1,"y":0.017},{"p":"d","s":"G","x":4.9,"y":0.0075},{"p":"d","s":"G","x":5.7,"y":0.0032},{"p":"d","s":"G","x":5.6,"y":0.0017},
{"p":"d","s":"H","x":0.1,"y":0.97},{"p":"d","s":"H","x":0.8,"y":0.65},{"p":"d","s":"H","x":1.6,"y":0.28},{"p":"d","s":"H","x":2.5,"y":0.1},{"p":"d","s":"H","x":3.3,"y":0.042},{"p":"d","s":"H","x":4.1,"y":0.02},{"p":"d","s":"H","x":4.9,"y":0.0085},{"p":"d","s":"H","x":5.2,"y":0.0035},{"p":"d","s":"H","x":5.6,"y":0.0028},{"p":"d","s":"H","x":7.1,"y":0.0015},
{"p":"d","s":"I","x":0.1,"y":0.97},{"p":"d","s":"I","x":0.8,"y":0.64},{"p":"d","s":"I","x":1.6,"y":0.27},{"p":"d","s":"I","x":2.5,"y":0.1},{"p":"d","s":"I","x":3.3,"y":0.041},{"p":"d","s":"I","x":4.1,"y":0.019},{"p":"d","s":"I","x":4.9,"y":0.0082},{"p":"d","s":"I","x":5.7,"y":0.0035},
{"p":"d","s":"K","x":0.1,"y":0.98},{"p":"d","s":"K","x":0.8,"y":0.67},{"p":"d","s":"K","x":1.6,"y":0.3},{"p":"d","s":"K","x":2.5,"y":0.11},{"p":"d","s":"K","x":3.3,"y":0.048},{"p":"d","s":"K","x":4.1,"y":0.024},{"p":"d","s":"K","x":4.9,"y":0.011},{"p":"d","s":"K","x":6.3,"y":0.0081},{"p":"d","s":"K","x":8.0,"y":0.0072},{"p":"d","s":"K","x":8.0,"y":0.0064},{"p":"d","s":"K","x":7.6,"y":0.0041},
{"p":"d","s":"L","x":0.1,"y":0.96},{"p":"d","s":"L","x":0.8,"y":0.63},{"p":"d","s":"L","x":1.6,"y":0.26},{"p":"d","s":"L","x":2.5,"y":0.095},{"p":"d","s":"L","x":3.3,"y":0.04},{"p":"d","s":"L","x":4.1,"y":0.018},{"p":"d","s":"L","x":4.9,"y":0.008},{"p":"d","s":"L","x":5.7,"y":0.0035},{"p":"d","s":"L","x":5.6,"y":0.0012},
{"p":"d","s":"M","x":0.1,"y":0.97},{"p":"d","s":"M","x":0.8,"y":0.65},{"p":"d","s":"M","x":1.6,"y":0.28},{"p":"d","s":"M","x":2.5,"y":0.1},{"p":"d","s":"M","x":3.3,"y":0.043},{"p":"d","s":"M","x":4.1,"y":0.021},{"p":"d","s":"M","x":4.9,"y":0.0095},{"p":"d","s":"M","x":5.7,"y":0.0045},{"p":"d","s":"M","x":6.5,"y":0.0028},
{"p":"d","s":"N","x":0.1,"y":0.97},{"p":"d","s":"N","x":0.8,"y":0.65},{"p":"d","s":"N","x":1.6,"y":0.28},{"p":"d","s":"N","x":2.5,"y":0.1},{"p":"d","s":"N","x":3.3,"y":0.042},{"p":"d","s":"N","x":4.1,"y":0.02},{"p":"d","s":"N","x":4.9,"y":0.0088},{"p":"d","s":"N","x":5.7,"y":0.0039},
{"p":"d","s":"P","x":0.1,"y":0.97},{"p":"d","s":"P","x":0.8,"y":0.64},{"p":"d","s":"P","x":1.6,"y":0.27},{"p":"d","s":"P","x":2.5,"y":0.098},{"p":"d","s":"P","x":3.3,"y":0.041},{"p":"d","s":"P","x":4.1,"y":0.019},{"p":"d","s":"P","x":4.9,"y":0.0085},{"p":"d","s":"P","x":5.0,"y":0.0019},{"p":"d","s":"P","x":5.6,"y":0.0012},
{"p":"d","s":"Q","x":0.1,"y":0.97},{"p":"d","s":"Q","x":0.8,"y":0.66},{"p":"d","s":"Q","x":1.6,"y":0.29},{"p":"d","s":"Q","x":2.5,"y":0.105},{"p":"d","s":"Q","x":3.3,"y":0.045},{"p":"d","s":"Q","x":4.1,"y":0.022},{"p":"d","s":"Q","x":4.9,"y":0.01},{"p":"d","s":"Q","x":5.7,"y":0.0048},{"p":"d","s":"Q","x":6.5,"y":0.0035},{"p":"d","s":"Q","x":7.0,"y":0.0031},
{"p":"d","s":"R","x":0.1,"y":0.98},{"p":"d","s":"R","x":0.8,"y":0.66},{"p":"d","s":"R","x":1.6,"y":0.29},{"p":"d","s":"R","x":2.5,"y":0.105},{"p":"d","s":"R","x":3.3,"y":0.046},{"p":"d","s":"R","x":4.1,"y":0.023},{"p":"d","s":"R","x":4.9,"y":0.011},{"p":"d","s":"R","x":5.7,"y":0.005},{"p":"d","s":"R","x":6.6,"y":0.0025},
{"p":"d","s":"S","x":0.1,"y":0.96},{"p":"d","s":"S","x":0.8,"y":0.63},{"p":"d","s":"S","x":1.6,"y":0.27},{"p":"d","s":"S","x":2.5,"y":0.097},{"p":"d","s":"S","x":3.3,"y":0.041},{"p":"d","s":"S","x":4.1,"y":0.019},{"p":"d","s":"S","x":4.9,"y":0.0083},{"p":"d","s":"S","x":5.7,"y":0.0038},{"p":"d","s":"S","x":6.0,"y":0.0028},
{"p":"d","s":"T","x":0.1,"y":0.97},{"p":"d","s":"T","x":0.8,"y":0.64},{"p":"d","s":"T","x":1.6,"y":0.27},{"p":"d","s":"T","x":2.5,"y":0.097},{"p":"d","s":"T","x":3.3,"y":0.04},{"p":"d","s":"T","x":4.1,"y":0.019},{"p":"d","s":"T","x":4.9,"y":0.0085},{"p":"d","s":"T","x":5.7,"y":0.0037},
{"p":"d","s":"V","x":0.1,"y":0.97},{"p":"d","s":"V","x":0.8,"y":0.66},{"p":"d","s":"V","x":1.6,"y":0.29},{"p":"d","s":"V","x":2.5,"y":0.105},{"p":"d","s":"V","x":3.3,"y":0.045},{"p":"d","s":"V","x":4.1,"y":0.022},{"p":"d","s":"V","x":4.9,"y":0.0098},{"p":"d","s":"V","x":5.7,"y":0.0045},{"p":"d","s":"V","x":6.6,"y":0.0012},
{"p":"d","s":"W","x":0.1,"y":0.96},{"p":"d","s":"W","x":0.8,"y":0.62},{"p":"d","s":"W","x":1.6,"y":0.26},{"p":"d","s":"W","x":2.5,"y":0.093},{"p":"d","s":"W","x":3.3,"y":0.036},{"p":"d","s":"W","x":4.1,"y":0.016},{"p":"d","s":"W","x":4.9,"y":0.0075},{"p":"d","s":"W","x":9.2,"y":0.0047},{"p":"d","s":"W","x":10.45,"y":0.0023},
{"p":"d","s":"Y","x":0.1,"y":0.97},{"p":"d","s":"Y","x":0.8,"y":0.65},{"p":"d","s":"Y","x":1.6,"y":0.28},{"p":"d","s":"Y","x":2.5,"y":0.1},{"p":"d","s":"Y","x":3.3,"y":0.043},{"p":"d","s":"Y","x":4.1,"y":0.021},{"p":"d","s":"Y","x":4.9,"y":0.0092},{"p":"d","s":"Y","x":5.7,"y":0.0042},{"p":"d","s":"Y","x":6.2,"y":0.0045}
]},
"vconcat":[
{"hconcat":[
{"width":346,"height":285,"layer":[
{"data":{"name":"pts"},"transform":[{"filter":"datum.p=='a'"}],"mark":{"type":"point","filled":true,"size":36,"opacity":1,"strokeWidth":0,"clip":true},
"encoding":{"x":{"field":"x","type":"quantitative","scale":{"domain":[0,30],"nice":false,"zero":false},"axis":{"orient":"bottom","values":[0,1.5,3,4.5,6,7.5,9,10.5,12,13.5,15,16.5,18,19.5,21,22.5,24,25.5,27,28.5,30],"labelExpr":"datum.value % 3 == 0 ? datum.label : ''","tickSize":{"condition":{"test":"datum.value % 3 == 0","value":-7},"value":-4},"labelPadding":5,"title":"l / L","titleFontStyle":"italic","titleFontWeight":"bold","titleFontSize":20,"titlePadding":-3}},
"y":{"field":"y","type":"quantitative","scale":{"type":"log","domain":[0.001,1],"nice":false},"axis":{"orient":"left","values":[0.001,0.002,0.003,0.004,0.005,0.006,0.007,0.008,0.009,0.01,0.02,0.03,0.04,0.05,0.06,0.07,0.08,0.09,0.1,0.2,0.3,0.4,0.5,0.6,0.7,0.8,0.9,1],"labelExpr":"datum.value == 1 ? '10⁰' : datum.value == 0.1 ? '10⁻¹' : datum.value == 0.01 ? '10⁻²' : datum.value == 0.001 ? '10⁻³' : ''","tickSize":{"condition":{"test":"indexof([1,0.1,0.01,0.001], datum.value) >= 0","value":-7},"value":-4},"labelPadding":7,"title":"R(l)","titleFontStyle":"italic","titleFontWeight":"bold","titleFontSize":18,"titlePadding":-21}},
"color":{"field":"s","type":"nominal","title":null,"scale":{"domain":["A","C","D","E","F","G","H","I","K","L","M","N","P","Q","R","S","T","V","W","Y"],"range":["#ff0000","#9400d3","#ff0000","#0000ff","#00ffff","#0000ff","#670748","#670748","#00ff00","#008b00","#ffa500","#40e0d0","#00ff00","#ffa500","#ffff00","#00ffff","#008b00","#ffff00","#008b00","#00ff00"]}},
"shape":{"field":"s","type":"nominal","title":null,"scale":{"domain":["A","C","D","E","F","G","H","I","K","L","M","N","P","Q","R","S","T","V","W","Y"],"range":["diamond","square","triangle-down","triangle-right","diamond","square","square","triangle-right","M-1,-0.75L-0.75,-1L0,-0.25L0.75,-1L1,-0.75L0.25,0L1,0.75L0.75,1L0,0.25L-0.75,1L-1,0.75L-0.25,0Z","triangle-up","diamond","triangle-up","triangle-up","triangle-left","M-1,-0.75L-0.75,-1L0,-0.25L0.75,-1L1,-0.75L0.25,0L1,0.75L0.75,1L0,0.25L-0.75,1L-1,0.75L-0.25,0Z","triangle-left","M-1,-0.75L-0.75,-1L0,-0.25L0.75,-1L1,-0.75L0.25,0L1,0.75L0.75,1L0,0.25L-0.75,1L-1,0.75L-0.25,0Z","triangle-down","triangle-down","M-1,-0.75L-0.75,-1L0,-0.25L0.75,-1L1,-0.75L0.25,0L1,0.75L0.75,1L0,0.25L-0.75,1L-1,0.75L-0.25,0Z"]}}}},
{"data":{"name":"ref"},"transform":[{"filter":"datum.p=='a'"}],"mark":{"type":"point","shape":"circle","filled":false,"color":"black","size":40,"strokeWidth":1,"opacity":1,"clip":true},
"encoding":{"x":{"field":"x","type":"quantitative","scale":{"domain":[0,30],"nice":false,"zero":false},"axis":{"orient":"top","values":[0,1.5,3,4.5,6,7.5,9,10.5,12,13.5,15,16.5,18,19.5,21,22.5,24,25.5,27,28.5,30],"labels":false,"tickSize":{"condition":{"test":"datum.value % 3 == 0","value":-7},"value":-4},"title":null}},
"y":{"field":"y","type":"quantitative","scale":{"type":"log","domain":[0.001,1],"nice":false},"axis":{"orient":"right","values":[0.001,0.002,0.003,0.004,0.005,0.006,0.007,0.008,0.009,0.01,0.02,0.03,0.04,0.05,0.06,0.07,0.08,0.09,0.1,0.2,0.3,0.4,0.5,0.6,0.7,0.8,0.9,1],"labels":false,"tickSize":{"condition":{"test":"indexof([1,0.1,0.01,0.001], datum.value) >= 0","value":-7},"value":-4},"title":null}}}},
{"data":{"name":"fit"},"transform":[{"filter":"datum.p=='a'"}],"mark":{"type":"line","color":"black","strokeWidth":1.5,"strokeDash":[6,4],"clip":true},
"encoding":{"x":{"field":"x","type":"quantitative","scale":{"domain":[0,30],"nice":false,"zero":false},"axis":null},"y":{"field":"y","type":"quantitative","scale":{"type":"log","domain":[0.001,1],"nice":false},"axis":null}}},
{"data":{"values":[{}]},"mark":{"type":"text","text":"Membrane-associated Firmicutes","align":"right","baseline":"middle","fontSize":17,"fontStyle":"italic","fontWeight":"bold","font":"Liberation Serif"},
"encoding":{"x":{"datum":29.1,"type":"quantitative","scale":{"domain":[0,30],"nice":false,"zero":false},"axis":null},"y":{"datum":0.6,"type":"quantitative","scale":{"type":"log","domain":[0.001,1],"nice":false},"axis":null}}},
{"data":{"values":[{}]},"mark":{"type":"text","text":"a)","align":"left","baseline":"middle","fontSize":20,"fontWeight":"bold","font":"Liberation Serif"},
"encoding":{"x":{"datum":1.5,"type":"quantitative","scale":{"domain":[0,30],"nice":false,"zero":false},"axis":null},"y":{"datum":0.0019,"type":"quantitative","scale":{"type":"log","domain":[0.001,1],"nice":false},"axis":null}}}
]},
{"width":348,"height":285,"layer":[
{"data":{"name":"pts"},"transform":[{"filter":"datum.p=='b'"}],"mark":{"type":"point","filled":true,"size":36,"opacity":1,"strokeWidth":0,"clip":true},
"encoding":{"x":{"field":"x","type":"quantitative","scale":{"domain":[0,30],"nice":false,"zero":false},"axis":{"orient":"bottom","values":[0,1.5,3,4.5,6,7.5,9,10.5,12,13.5,15,16.5,18,19.5,21,22.5,24,25.5,27,28.5,30],"labelExpr":"datum.value % 3 == 0 ? datum.label : ''","tickSize":{"condition":{"test":"datum.value % 3 == 0","value":-7},"value":-4},"labelPadding":5,"title":"l / L","titleFontStyle":"italic","titleFontWeight":"bold","titleFontSize":20,"titlePadding":-3}},
"y":{"field":"y","type":"quantitative","scale":{"type":"log","domain":[0.001,1],"nice":false},"axis":{"orient":"left","values":[0.001,0.002,0.003,0.004,0.005,0.006,0.007,0.008,0.009,0.01,0.02,0.03,0.04,0.05,0.06,0.07,0.08,0.09,0.1,0.2,0.3,0.4,0.5,0.6,0.7,0.8,0.9,1],"labels":false,"tickSize":{"condition":{"test":"indexof([1,0.1,0.01,0.001], datum.value) >= 0","value":-7},"value":-4},"title":null}},
"color":{"field":"s","type":"nominal","title":null,"scale":{"domain":["A","C","D","E","F","G","H","I","K","L","M","N","P","Q","R","S","T","V","W","Y"],"range":["#ff0000","#9400d3","#ff0000","#0000ff","#00ffff","#0000ff","#670748","#670748","#00ff00","#008b00","#ffa500","#40e0d0","#00ff00","#ffa500","#ffff00","#00ffff","#008b00","#ffff00","#008b00","#00ff00"]}},
"shape":{"field":"s","type":"nominal","title":null,"scale":{"domain":["A","C","D","E","F","G","H","I","K","L","M","N","P","Q","R","S","T","V","W","Y"],"range":["diamond","square","triangle-down","triangle-right","diamond","square","square","triangle-right","M-1,-0.75L-0.75,-1L0,-0.25L0.75,-1L1,-0.75L0.25,0L1,0.75L0.75,1L0,0.25L-0.75,1L-1,0.75L-0.25,0Z","triangle-up","diamond","triangle-up","triangle-up","triangle-left","M-1,-0.75L-0.75,-1L0,-0.25L0.75,-1L1,-0.75L0.25,0L1,0.75L0.75,1L0,0.25L-0.75,1L-1,0.75L-0.25,0Z","triangle-left","M-1,-0.75L-0.75,-1L0,-0.25L0.75,-1L1,-0.75L0.25,0L1,0.75L0.75,1L0,0.25L-0.75,1L-1,0.75L-0.25,0Z","triangle-down","triangle-down","M-1,-0.75L-0.75,-1L0,-0.25L0.75,-1L1,-0.75L0.25,0L1,0.75L0.75,1L0,0.25L-0.75,1L-1,0.75L-0.25,0Z"]}}}},
{"data":{"name":"ref"},"transform":[{"filter":"datum.p=='b'"}],"mark":{"type":"point","shape":"circle","filled":false,"color":"black","size":40,"strokeWidth":1,"opacity":1,"clip":true},
"encoding":{"x":{"field":"x","type":"quantitative","scale":{"domain":[0,30],"nice":false,"zero":false},"axis":{"orient":"top","values":[0,1.5,3,4.5,6,7.5,9,10.5,12,13.5,15,16.5,18,19.5,21,22.5,24,25.5,27,28.5,30],"labels":false,"tickSize":{"condition":{"test":"datum.value % 3 == 0","value":-7},"value":-4},"title":null}},
"y":{"field":"y","type":"quantitative","scale":{"type":"log","domain":[0.001,1],"nice":false},"axis":{"orient":"right","values":[0.001,0.002,0.003,0.004,0.005,0.006,0.007,0.008,0.009,0.01,0.02,0.03,0.04,0.05,0.06,0.07,0.08,0.09,0.1,0.2,0.3,0.4,0.5,0.6,0.7,0.8,0.9,1],"labels":false,"tickSize":{"condition":{"test":"indexof([1,0.1,0.01,0.001], datum.value) >= 0","value":-7},"value":-4},"title":null}}}},
{"data":{"name":"fit"},"transform":[{"filter":"datum.p=='b'"}],"mark":{"type":"line","color":"black","strokeWidth":1.5,"strokeDash":[6,4],"clip":true},
"encoding":{"x":{"field":"x","type":"quantitative","scale":{"domain":[0,30],"nice":false,"zero":false},"axis":null},"y":{"field":"y","type":"quantitative","scale":{"type":"log","domain":[0.001,1],"nice":false},"axis":null}}},
{"data":{"values":[{}]},"mark":{"type":"text","text":"Membrane-associated Proteobacteria","align":"right","baseline":"middle","fontSize":17,"fontStyle":"italic","fontWeight":"bold","font":"Liberation Serif"},
"encoding":{"x":{"datum":29.0,"type":"quantitative","scale":{"domain":[0,30],"nice":false,"zero":false},"axis":null},"y":{"datum":0.6,"type":"quantitative","scale":{"type":"log","domain":[0.001,1],"nice":false},"axis":null}}},
{"data":{"values":[{}]},"mark":{"type":"text","text":"b)","align":"left","baseline":"middle","fontSize":20,"fontWeight":"bold","font":"Liberation Serif"},
"encoding":{"x":{"datum":1.72,"type":"quantitative","scale":{"domain":[0,30],"nice":false,"zero":false},"axis":null},"y":{"datum":0.0019,"type":"quantitative","scale":{"type":"log","domain":[0.001,1],"nice":false},"axis":null}}}
]}
],"spacing":12,"bounds":"flush"},
{"hconcat":[
{"width":346,"height":285,"layer":[
{"data":{"name":"pts"},"transform":[{"filter":"datum.p=='c'"}],"mark":{"type":"point","filled":true,"size":36,"opacity":1,"strokeWidth":0,"clip":true},
"encoding":{"x":{"field":"x","type":"quantitative","scale":{"domain":[0,30],"nice":false,"zero":false},"axis":{"orient":"bottom","values":[0,1.5,3,4.5,6,7.5,9,10.5,12,13.5,15,16.5,18,19.5,21,22.5,24,25.5,27,28.5,30],"labelExpr":"datum.value % 3 == 0 ? datum.label : ''","tickSize":{"condition":{"test":"datum.value % 3 == 0","value":-7},"value":-4},"labelPadding":5,"title":"l / L","titleFontStyle":"italic","titleFontWeight":"bold","titleFontSize":20,"titlePadding":-8}},
"y":{"field":"y","type":"quantitative","scale":{"type":"log","domain":[0.001,1],"nice":false},"axis":{"orient":"left","values":[0.001,0.002,0.003,0.004,0.005,0.006,0.007,0.008,0.009,0.01,0.02,0.03,0.04,0.05,0.06,0.07,0.08,0.09,0.1,0.2,0.3,0.4,0.5,0.6,0.7,0.8,0.9,1],"labelExpr":"datum.value == 1 ? '10⁰' : datum.value == 0.1 ? '10⁻¹' : datum.value == 0.01 ? '10⁻²' : datum.value == 0.001 ? '10⁻³' : ''","tickSize":{"condition":{"test":"indexof([1,0.1,0.01,0.001], datum.value) >= 0","value":-7},"value":-4},"labelPadding":7,"title":"R(l)","titleFontStyle":"italic","titleFontWeight":"bold","titleFontSize":18,"titlePadding":-21}},
"color":{"field":"s","type":"nominal","title":null,"scale":{"domain":["A","C","D","E","F","G","H","I","K","L","M","N","P","Q","R","S","T","V","W","Y"],"range":["#ff0000","#9400d3","#ff0000","#0000ff","#00ffff","#0000ff","#670748","#670748","#00ff00","#008b00","#ffa500","#40e0d0","#00ff00","#ffa500","#ffff00","#00ffff","#008b00","#ffff00","#008b00","#00ff00"]}},
"shape":{"field":"s","type":"nominal","title":null,"scale":{"domain":["A","C","D","E","F","G","H","I","K","L","M","N","P","Q","R","S","T","V","W","Y"],"range":["diamond","square","triangle-down","triangle-right","diamond","square","square","triangle-right","M-1,-0.75L-0.75,-1L0,-0.25L0.75,-1L1,-0.75L0.25,0L1,0.75L0.75,1L0,0.25L-0.75,1L-1,0.75L-0.25,0Z","triangle-up","diamond","triangle-up","triangle-up","triangle-left","M-1,-0.75L-0.75,-1L0,-0.25L0.75,-1L1,-0.75L0.25,0L1,0.75L0.75,1L0,0.25L-0.75,1L-1,0.75L-0.25,0Z","triangle-left","M-1,-0.75L-0.75,-1L0,-0.25L0.75,-1L1,-0.75L0.25,0L1,0.75L0.75,1L0,0.25L-0.75,1L-1,0.75L-0.25,0Z","triangle-down","triangle-down","M-1,-0.75L-0.75,-1L0,-0.25L0.75,-1L1,-0.75L0.25,0L1,0.75L0.75,1L0,0.25L-0.75,1L-1,0.75L-0.25,0Z"]}}}},
{"data":{"name":"ref"},"transform":[{"filter":"datum.p=='c'"}],"mark":{"type":"point","shape":"circle","filled":false,"color":"black","size":40,"strokeWidth":1,"opacity":1,"clip":true},
"encoding":{"x":{"field":"x","type":"quantitative","scale":{"domain":[0,30],"nice":false,"zero":false},"axis":{"orient":"top","values":[0,1.5,3,4.5,6,7.5,9,10.5,12,13.5,15,16.5,18,19.5,21,22.5,24,25.5,27,28.5,30],"labels":false,"tickSize":{"condition":{"test":"datum.value % 3 == 0","value":-7},"value":-4},"title":null}},
"y":{"field":"y","type":"quantitative","scale":{"type":"log","domain":[0.001,1],"nice":false},"axis":{"orient":"right","values":[0.001,0.002,0.003,0.004,0.005,0.006,0.007,0.008,0.009,0.01,0.02,0.03,0.04,0.05,0.06,0.07,0.08,0.09,0.1,0.2,0.3,0.4,0.5,0.6,0.7,0.8,0.9,1],"labels":false,"tickSize":{"condition":{"test":"indexof([1,0.1,0.01,0.001], datum.value) >= 0","value":-7},"value":-4},"title":null}}}},
{"data":{"name":"fit"},"transform":[{"filter":"datum.p=='c'"}],"mark":{"type":"line","color":"black","strokeWidth":1.5,"strokeDash":[6,4],"clip":true},
"encoding":{"x":{"field":"x","type":"quantitative","scale":{"domain":[0,30],"nice":false,"zero":false},"axis":null},"y":{"field":"y","type":"quantitative","scale":{"type":"log","domain":[0.001,1],"nice":false},"axis":null}}},
{"data":{"values":[{}]},"mark":{"type":"text","text":"DNA-binding Firmicutes","align":"right","baseline":"middle","fontSize":17,"fontStyle":"italic","fontWeight":"bold","font":"Liberation Serif"},
"encoding":{"x":{"datum":29.2,"type":"quantitative","scale":{"domain":[0,30],"nice":false,"zero":false},"axis":null},"y":{"datum":0.6,"type":"quantitative","scale":{"type":"log","domain":[0.001,1],"nice":false},"axis":null}}},
{"data":{"values":[{}]},"mark":{"type":"text","text":"c)","align":"left","baseline":"middle","fontSize":20,"fontWeight":"bold","font":"Liberation Serif"},
"encoding":{"x":{"datum":1.4,"type":"quantitative","scale":{"domain":[0,30],"nice":false,"zero":false},"axis":null},"y":{"datum":0.0018,"type":"quantitative","scale":{"type":"log","domain":[0.001,1],"nice":false},"axis":null}}}
]},
{"width":348,"height":285,"layer":[
{"data":{"name":"pts"},"transform":[{"filter":"datum.p=='d'"}],"mark":{"type":"point","filled":true,"size":36,"opacity":1,"strokeWidth":0,"clip":true},
"encoding":{"x":{"field":"x","type":"quantitative","scale":{"domain":[0,30],"nice":false,"zero":false},"axis":{"orient":"bottom","values":[0,1.5,3,4.5,6,7.5,9,10.5,12,13.5,15,16.5,18,19.5,21,22.5,24,25.5,27,28.5,30],"labelExpr":"datum.value % 3 == 0 ? datum.label : ''","tickSize":{"condition":{"test":"datum.value % 3 == 0","value":-7},"value":-4},"labelPadding":5,"title":"l / L","titleFontStyle":"italic","titleFontWeight":"bold","titleFontSize":20,"titlePadding":-8}},
"y":{"field":"y","type":"quantitative","scale":{"type":"log","domain":[0.001,1],"nice":false},"axis":{"orient":"left","values":[0.001,0.002,0.003,0.004,0.005,0.006,0.007,0.008,0.009,0.01,0.02,0.03,0.04,0.05,0.06,0.07,0.08,0.09,0.1,0.2,0.3,0.4,0.5,0.6,0.7,0.8,0.9,1],"labels":false,"tickSize":{"condition":{"test":"indexof([1,0.1,0.01,0.001], datum.value) >= 0","value":-7},"value":-4},"title":null}},
"color":{"field":"s","type":"nominal","title":null,"scale":{"domain":["A","C","D","E","F","G","H","I","K","L","M","N","P","Q","R","S","T","V","W","Y"],"range":["#ff0000","#9400d3","#ff0000","#0000ff","#00ffff","#0000ff","#670748","#670748","#00ff00","#008b00","#ffa500","#40e0d0","#00ff00","#ffa500","#ffff00","#00ffff","#008b00","#ffff00","#008b00","#00ff00"]}},
"shape":{"field":"s","type":"nominal","title":null,"scale":{"domain":["A","C","D","E","F","G","H","I","K","L","M","N","P","Q","R","S","T","V","W","Y"],"range":["diamond","square","triangle-down","triangle-right","diamond","square","square","triangle-right","M-1,-0.75L-0.75,-1L0,-0.25L0.75,-1L1,-0.75L0.25,0L1,0.75L0.75,1L0,0.25L-0.75,1L-1,0.75L-0.25,0Z","triangle-up","diamond","triangle-up","triangle-up","triangle-left","M-1,-0.75L-0.75,-1L0,-0.25L0.75,-1L1,-0.75L0.25,0L1,0.75L0.75,1L0,0.25L-0.75,1L-1,0.75L-0.25,0Z","triangle-left","M-1,-0.75L-0.75,-1L0,-0.25L0.75,-1L1,-0.75L0.25,0L1,0.75L0.75,1L0,0.25L-0.75,1L-1,0.75L-0.25,0Z","triangle-down","triangle-down","M-1,-0.75L-0.75,-1L0,-0.25L0.75,-1L1,-0.75L0.25,0L1,0.75L0.75,1L0,0.25L-0.75,1L-1,0.75L-0.25,0Z"]}}}},
{"data":{"name":"ref"},"transform":[{"filter":"datum.p=='d'"}],"mark":{"type":"point","shape":"circle","filled":false,"color":"black","size":40,"strokeWidth":1,"opacity":1,"clip":true},
"encoding":{"x":{"field":"x","type":"quantitative","scale":{"domain":[0,30],"nice":false,"zero":false},"axis":{"orient":"top","values":[0,1.5,3,4.5,6,7.5,9,10.5,12,13.5,15,16.5,18,19.5,21,22.5,24,25.5,27,28.5,30],"labels":false,"tickSize":{"condition":{"test":"datum.value % 3 == 0","value":-7},"value":-4},"title":null}},
"y":{"field":"y","type":"quantitative","scale":{"type":"log","domain":[0.001,1],"nice":false},"axis":{"orient":"right","values":[0.001,0.002,0.003,0.004,0.005,0.006,0.007,0.008,0.009,0.01,0.02,0.03,0.04,0.05,0.06,0.07,0.08,0.09,0.1,0.2,0.3,0.4,0.5,0.6,0.7,0.8,0.9,1],"labels":false,"tickSize":{"condition":{"test":"indexof([1,0.1,0.01,0.001], datum.value) >= 0","value":-7},"value":-4},"title":null}}}},
{"data":{"name":"fit"},"transform":[{"filter":"datum.p=='d'"}],"mark":{"type":"line","color":"black","strokeWidth":1.5,"strokeDash":[6,4],"clip":true},
"encoding":{"x":{"field":"x","type":"quantitative","scale":{"domain":[0,30],"nice":false,"zero":false},"axis":null},"y":{"field":"y","type":"quantitative","scale":{"type":"log","domain":[0.001,1],"nice":false},"axis":null}}},
{"data":{"values":[{}]},"mark":{"type":"text","text":"DNA-binding Proteobacteria","align":"right","baseline":"middle","fontSize":17,"fontStyle":"italic","fontWeight":"bold","font":"Liberation Serif"},
"encoding":{"x":{"datum":29.0,"type":"quantitative","scale":{"domain":[0,30],"nice":false,"zero":false},"axis":null},"y":{"datum":0.6,"type":"quantitative","scale":{"type":"log","domain":[0.001,1],"nice":false},"axis":null}}},
{"data":{"values":[{}]},"mark":{"type":"text","text":"d)","align":"left","baseline":"middle","fontSize":20,"fontWeight":"bold","font":"Liberation Serif"},
"encoding":{"x":{"datum":1.72,"type":"quantitative","scale":{"domain":[0,30],"nice":false,"zero":false},"axis":null},"y":{"datum":0.0018,"type":"quantitative","scale":{"type":"log","domain":[0.001,1],"nice":false},"axis":null}}}
]}
],"spacing":12,"bounds":"flush"}
],
"spacing":0,
"resolve":{"scale":{"color":"independent","shape":"independent"}}
}
